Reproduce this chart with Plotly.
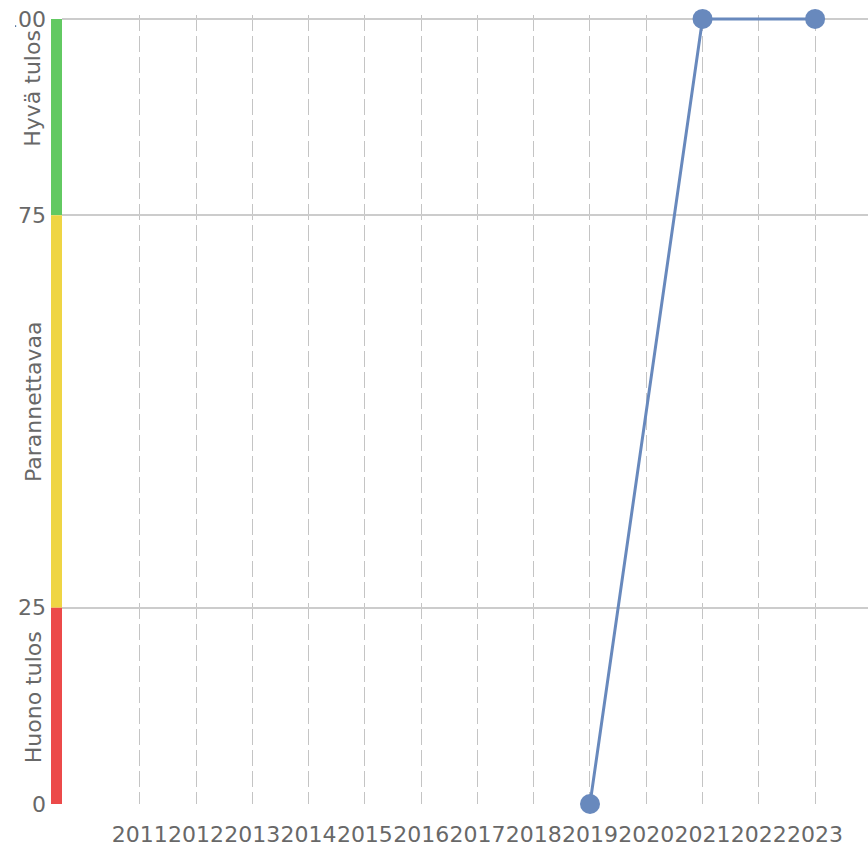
import plotly.graph_objects as go

years = [2019, 2021, 2023]
values = [0, 100, 100]
tick_years = list(range(2011, 2024))
tick_labels = [str(y) for y in tick_years]
y_ticks = [0, 25, 75, 100]
bands = [
    {"y0": 75, "y1": 100, "color": "#62c962", "label": "Hyvä tulos", "ly": 91.1},
    {"y0": 25, "y1": 75, "color": "#efd544", "label": "Parannettavaa", "ly": 51.2},
    {"y0": 0, "y1": 25, "color": "#ec4a4a", "label": "Huono tulos", "ly": 13.6},
]

W, H = 868, 847
YTOP = 100.5
ML, MR, MB = 62, 0, 43
PH100 = 785.0                      # pixels for 0..100
MT = round(H - MB - PH100 * YTOP / 100)
PW = W - ML - MR
PH = H - MT - MB
FONT = "DejaVu Sans"
GRAY = "#686868"

fig = go.Figure()
fig.add_trace(go.Scatter(
    x=years, y=values, mode="lines+markers",
    line=dict(color="#6889bd", width=3),
    marker=dict(color="#6889bd", size=20),
    cliponaxis=False, showlegend=False, hoverinfo="x+y",
))

shapes = []
annotations = []
for b in bands:
    shapes.append(dict(type="rect", xref="paper", yref="y",
                       x0=-11 / PW, x1=0, y0=b["y0"], y1=b["y1"],
                       fillcolor=b["color"], line=dict(width=0), layer="above"))
    annotations.append(dict(xref="paper", yref="y", x=(33 - ML) / PW, y=b["ly"],
                            text=b["label"], textangle=-90, showarrow=False,
                            xanchor="center", yanchor="middle",
                            font=dict(family=FONT, size=22, color=GRAY)))
# clip of the top tick label at the left edge
shapes.append(dict(type="rect", xref="paper", yref="paper",
                   x0=-ML / PW, x1=(15 - ML) / PW, y0=0.95, y1=1.03,
                   fillcolor="white", line=dict(width=0), layer="above"))

fig.update_layout(
    width=W, height=H,
    margin=dict(l=ML, r=MR, t=MT, b=MB, pad=0, autoexpand=False),
    paper_bgcolor="white", plot_bgcolor="white",
    font=dict(family=FONT, size=22, color=GRAY),
    shapes=shapes, annotations=annotations,
    xaxis=dict(
        range=[2009.618, 2023.94], tickmode="array",
        tickvals=tick_years, ticktext=tick_labels, tickangle=0,
        automargin=False,
        showgrid=True, gridcolor="#c4c4c4", gridwidth=1.3, griddash="16px,5px",
        zeroline=False, showline=False, ticks="",
        ticklabelstandoff=15,
        tickfont=dict(family=FONT, size=22, color=GRAY),
    ),
    yaxis=dict(
        range=[0, YTOP], tickmode="array", tickvals=y_ticks,
        ticktext=[str(v) for v in y_ticks], automargin=False,
        showgrid=True, gridcolor="#cccccc", gridwidth=1.5,
        zeroline=False, showline=False, ticks="",
        ticklabelstandoff=15,
        tickfont=dict(family=FONT, size=22, color=GRAY),
    ),
)

fig.write_html("out.html", config={"displayModeBar": False},
               post_script="document.body.style.margin='0';")
